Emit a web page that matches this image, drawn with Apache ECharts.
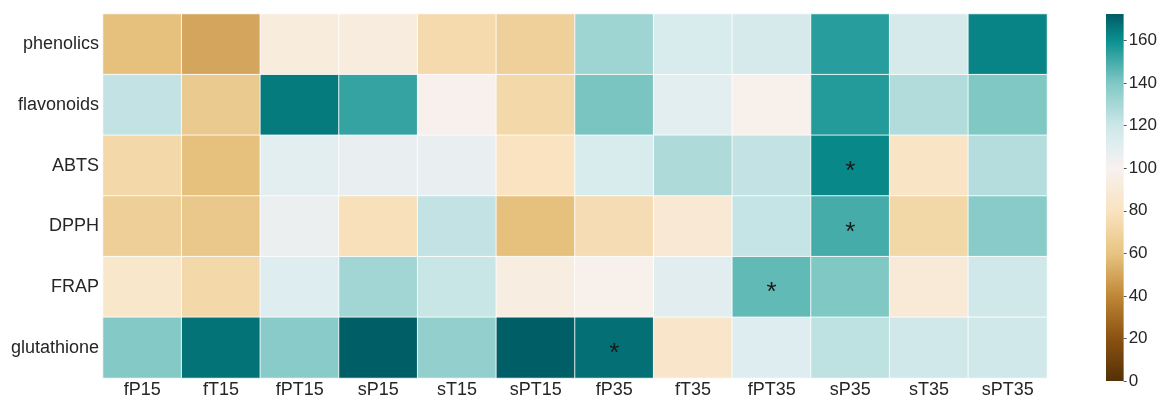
<!DOCTYPE html>
<html>
<head>
<meta charset="utf-8">
<script src="https://cdn.jsdelivr.net/npm/echarts@6/dist/echarts.min.js"></script>
<style>
  html, body { margin: 0; padding: 0; background: #fff; }
  #chart { width: 1160px; height: 399px; }
</style>
</head>
<body>
<div id="chart"></div>
<script>
// Treatments (columns) and measured parameters (rows)
const treatments = ['fP15', 'fT15', 'fPT15', 'sP15', 'sT15', 'sPT15', 'fP35', 'fT35', 'fPT35', 'sP35', 'sT35', 'sPT35'];
const parameters = ['phenolics', 'flavonoids', 'ABTS', 'DPPH', 'FRAP', 'glutathione'];

// Relative values (% of control) per parameter, in treatment order
const phenolics   = [59, 50, 92, 93, 74, 68, 132, 115, 116, 155, 116, 163];
const flavonoids  = [123, 64, 165, 153, 99, 73, 141, 110, 98, 156, 127, 140];
const abts        = [73, 59, 110, 107, 107, 80, 115, 128, 123, 162, 82, 126];
const dpph        = [67, 63, 106, 78, 123, 59, 76, 88, 122, 150, 72, 138];
const frap        = [85, 73, 112, 131, 121, 94, 98, 111, 145, 140, 90, 118];
const glutathione = [139, 167, 138, 172, 135, 172, 168, 84, 112, 124, 118, 118];

// Significant differences marked with an asterisk: [treatment index, parameter index]
const significant = [[9, 2], [9, 3], [8, 4], [6, 5]];

// Colour bar range and tick labels
const scaleMin = 0;
const scaleMax = 172.5;
const scaleTicks = [0, 20, 40, 60, 80, 100, 120, 140, 160];

// Diverging brown–teal palette anchors (value -> colour)
const anchorValues = [0, 20, 40, 60, 80, 100, 110, 120, 140, 160, 172.5];
const anchorColors = ['#543005', '#8a5212', '#c08736', '#e8c482', '#f9e3c0', '#f8f1ef', '#e3eef0', '#cde7e9', '#80c8c4', '#0a9090', '#005c64'];

function hexToRgb(h) {
  return [parseInt(h.slice(1, 3), 16), parseInt(h.slice(3, 5), 16), parseInt(h.slice(5, 7), 16)];
}
function colorAt(v) {
  let i = 0;
  while (i < anchorValues.length - 2 && v > anchorValues[i + 1]) i++;
  const t = Math.max(0, Math.min(1, (v - anchorValues[i]) / (anchorValues[i + 1] - anchorValues[i])));
  const a = hexToRgb(anchorColors[i]), b = hexToRgb(anchorColors[i + 1]);
  const c = a.map((x, k) => Math.round(x + (b[k] - x) * t));
  return 'rgb(' + c.join(',') + ')';
}
// Evenly spaced ramp for the visual map, plus gradient stops for the colour bar
const rampSteps = 140;
const ramp = [];
const gradientStops = [];
for (let s = 0; s <= rampSteps; s++) {
  const v = scaleMin + (scaleMax - scaleMin) * s / rampSteps;
  ramp.push(colorAt(v));
  gradientStops.push({ offset: 1 - s / rampSteps, color: colorAt(v) });
}

const rows = [phenolics, flavonoids, abts, dpph, frap, glutathione];
const cells = [];
rows.forEach((vals, r) => {
  vals.forEach((v, c) => {
    const star = significant.some(p => p[0] === c && p[1] === r);
    cells.push({ value: [c, r, v], star: star });
  });
});

const font = '"Liberation Sans", Arial, sans-serif';
const chart = echarts.init(document.getElementById('chart'), null, { renderer: 'canvas' });
chart.setOption({
  backgroundColor: '#fff',
  animation: false,
  grid: [
    { left: 103, top: 14, width: 944, height: 367 },
    { left: 1106, top: 14, width: 18, height: 367 }
  ],
  xAxis: [
    {
      type: 'category', gridIndex: 0, data: treatments,
      axisLine: { show: false }, axisTick: { show: false }, splitLine: { show: false },
      axisLabel: { fontSize: 18, fontFamily: font, color: '#262626', margin: 3 }
    },
    {
      type: 'category', gridIndex: 1, data: [''], show: false
    }
  ],
  yAxis: [
    {
      type: 'category', gridIndex: 0, data: parameters, inverse: true,
      axisLine: { show: false }, axisTick: { show: false }, splitLine: { show: false },
      axisLabel: { fontSize: 18, fontFamily: font, color: '#262626', margin: 4 }
    },
    {
      type: 'value', gridIndex: 1, position: 'right', min: scaleMin, max: scaleMax, interval: 20,
      axisLine: { show: false }, splitLine: { show: false },
      axisTick: { show: true, length: 3, lineStyle: { color: '#555', width: 1 }, customValues: scaleTicks },
      axisLabel: { fontSize: 17, fontFamily: font, color: '#262626', margin: 5, customValues: scaleTicks }
    }
  ],
  visualMap: {
    show: false, type: 'continuous', seriesIndex: 0, dimension: 2,
    min: scaleMin, max: scaleMax, inRange: { color: ramp }
  },
  series: [
    {
      type: 'heatmap', xAxisIndex: 0, yAxisIndex: 0, data: cells,
      itemStyle: { borderColor: 'rgba(255,255,255,0.85)', borderWidth: 1 },
      label: {
        show: true, fontSize: 26, fontFamily: font, color: '#1a1a1a', offset: [0, 6],
        formatter: p => (p.data.star ? '*' : '')
      },
      emphasis: { disabled: true }
    },
    {
      type: 'bar', xAxisIndex: 1, yAxisIndex: 1, data: [scaleMax],
      barWidth: '100%', silent: true,
      itemStyle: { color: new echarts.graphic.LinearGradient(0, 0, 0, 1, gradientStops) }
    }
  ]
});
</script>
</body>
</html>
